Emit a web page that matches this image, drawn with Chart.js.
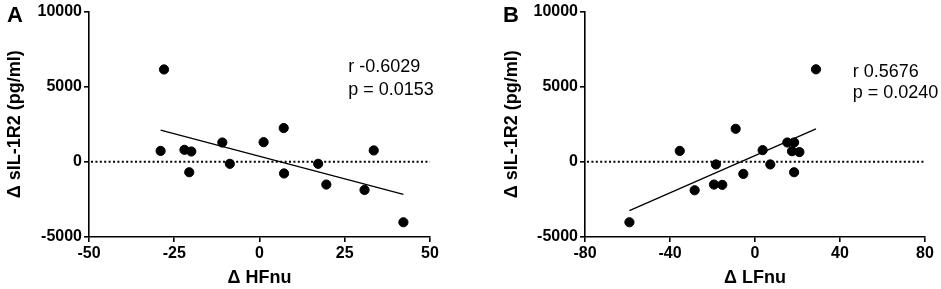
<!DOCTYPE html>
<html><head><meta charset="utf-8">
<script src="https://cdn.jsdelivr.net/npm/chart.js@4/dist/chart.umd.min.js"></script>
<style>
html,body{margin:0;padding:0;background:#fff;}
#wrap{position:relative;width:941px;height:289px;}
.pane{position:absolute;top:0;height:289px;}
</style></head>
<body>
<div id="wrap">
  <div class="pane" style="left:0;width:470px;"><canvas id="cA" width="470" height="289"></canvas></div>
  <div class="pane" style="left:470px;width:471px;"><canvas id="cB" width="471" height="289"></canvas></div>
</div>
<script>
// Panel A: Δ HFnu vs Δ sIL-1R2
const hfnuA = [-29, -28, -22, -20, -20.6, -10.9, -8.7, 1.2, 7.1, 7.2, 17.2, 19.6, 30.8, 33.5, 42.2];
const sil1r2A = [730, 6150, 800, 690, -690, 1290, -130, 1310, 2250, -770, -130, -1510, -1870, 760, -4020];
const fitXA = [-29, 42.2];
const fitYA = [2110, -2170];
const statsA = ["r -0.6029", "p = 0.0153"];

// Panel B: Δ LFnu vs Δ sIL-1R2
const lfnuB = [-59.1, -35.4, -28.4, -19.3, -15.4, -18.4, -9.1, -5.5, 3.6, 7.2, 15.2, 18.4, 17.4, 20.9, 18.4, 28.7];
const sil1r2B = [-4020, 730, -1890, -1510, -1530, -170, 2200, -800, 780, -170, 1290, 1290, 710, 650, -690, 6160];
const fitXB = [-59.1, 28.7];
const fitYB = [-3240, 2200];
const statsB = ["r 0.5676", "p = 0.0240"];

const yTicks = [-5000, 0, 5000, 10000];
const xTicksA = [-50, -25, 0, 25, 50];
const xTicksB = [-80, -40, 0, 40, 80];

const FONT = "'Liberation Sans', Arial, Helvetica, sans-serif";

const overlay = {
  id: 'overlay',
  beforeDatasetsDraw(chart, args, o) {
    const {ctx, chartArea, scales} = chart;
    const y0 = scales.y.getPixelForValue(0);
    ctx.save();
    ctx.strokeStyle = '#000';
    ctx.lineWidth = 2;
    ctx.setLineDash([2, 2.4]);
    ctx.beginPath();
    ctx.moveTo(chartArea.left + 2, y0);
    ctx.lineTo(chartArea.right, y0);
    ctx.stroke();
    ctx.restore();
  },
  afterDraw(chart, args, o) {
    const {ctx, scales} = chart;
    ctx.save();
    ctx.fillStyle = '#000';
    ctx.font = 'bold 22px ' + FONT;
    ctx.textBaseline = 'middle';
    ctx.textAlign = 'left';
    ctx.fillText(o.letter, o.letterX, 16);
    ctx.font = '18px ' + FONT;
    const sx = scales.x.getPixelForValue(o.textX);
    o.lines.forEach((t, i) => {
      ctx.fillText(t, sx, scales.y.getPixelForValue(o.textY[i]));
    });
    ctx.restore();
  }
};

function makeChart(id, xs, ys, fx, fy, xTicks, xTitle, yAxisW, padRight, titlePadLeft, letter, letterX, stats, textX, textY) {
  const pts = xs.map((x, i) => ({x: x, y: ys[i]}));
  const fit = fx.map((x, i) => ({x: x, y: fy[i]}));
  const axisCommon = {
    border: {display: true, color: '#000', width: 1.6},
    grid: {display: true, drawOnChartArea: false, drawTicks: true, tickLength: 5, color: '#000', lineWidth: 1.6},
  };
  const tickFont = {family: FONT, size: 16, weight: 'bold'};
  return new Chart(document.getElementById(id), {
    type: 'scatter',
    data: {
      datasets: [
        {type: 'line', data: fit, borderColor: '#000', borderWidth: 1.3, pointRadius: 0, fill: false, order: 2},
        {data: pts, backgroundColor: '#000', borderColor: '#000', pointRadius: 4.6, pointHoverRadius: 4.6, order: 1}
      ]
    },
    options: {
      responsive: false,
      animation: false,
      events: [],
      layout: {padding: {left: 0, right: padRight, top: 11, bottom: 0}},
      plugins: {
        legend: {display: false},
        tooltip: {enabled: false},
        overlay: {letter: letter, letterX: letterX, lines: stats, textX: textX, textY: textY}
      },
      scales: {
        x: Object.assign({}, axisCommon, {
          type: 'linear',
          min: xTicks[0], max: xTicks[xTicks.length - 1],
          afterBuildTicks: s => { s.ticks = xTicks.map(v => ({value: v})); },
          afterFit: s => { s.height = 52; },
          ticks: {color: '#000', font: tickFont, padding: 2, maxRotation: 0, callback: v => String(v)},
          title: {display: true, text: xTitle, color: '#000', font: {family: FONT, size: 18, weight: 'bold'}, padding: {top: 0, bottom: 0}}
        }),
        y: Object.assign({}, axisCommon, {
          type: 'linear',
          min: -5000, max: 10000,
          afterBuildTicks: s => { s.ticks = yTicks.map(v => ({value: v})); },
          afterFit: s => { s.width = yAxisW; },
          ticks: {color: '#000', font: tickFont, padding: 2, callback: v => String(v)},
          title: {display: true, text: 'Δ sIL-1R2 (pg/ml)', color: '#000', font: {family: FONT, size: 18, weight: 'bold'}, padding: {top: titlePadLeft, bottom: 0}}
        })
      }
    },
    plugins: [overlay]
  });
}

makeChart('cA', hfnuA, sil1r2A, fitXA, fitYA, xTicksA, 'Δ HFnu', 89, 40, 4, 'A', 7, statsA, 26, [6300, 4800]);
makeChart('cB', lfnuB, sil1r2B, fitXB, fitYB, xTicksB, 'Δ LFnu', 115, 16, 31, 'B', 33, statsB, 46, [5980, 4580]);
</script>
</body></html>
